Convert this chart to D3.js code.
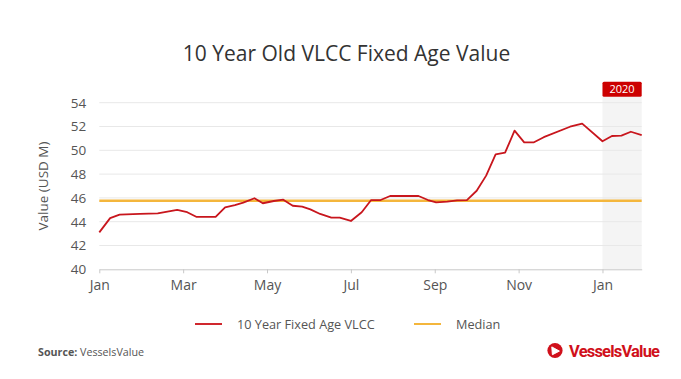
<!DOCTYPE html>
<html>
<head>
<meta charset="utf-8">
<script src="https://cdn.jsdelivr.net/npm/d3@7/dist/d3.min.js"></script>
<style>
  html, body { margin: 0; padding: 0; background: #fff; }
  svg { display: block; }
  text { font-family: "Open Sans", "Noto Sans", sans-serif; }
</style>
</head>
<body>
<svg id="chart" width="681" height="379"></svg>
<script>
// ---- data ----
const dates = ["2019-01-01","2019-01-09","2019-01-16","2019-01-31","2019-02-12","2019-02-25","2019-03-04","2019-03-11","2019-03-25","2019-04-01","2019-04-08","2019-04-14","2019-04-22","2019-04-28","2019-05-06","2019-05-13","2019-05-20","2019-05-27","2019-06-02","2019-06-09","2019-06-17","2019-06-23","2019-07-01","2019-07-09","2019-07-16","2019-07-23","2019-07-30","2019-08-20","2019-08-27","2019-09-02","2019-09-10","2019-09-17","2019-09-24","2019-10-01","2019-10-08","2019-10-15","2019-10-22","2019-10-29","2019-11-05","2019-11-12","2019-11-19","2019-12-08","2019-12-17","2020-01-01","2020-01-08","2020-01-15","2020-01-22","2020-01-30"];
const values = [43.1,44.3,44.6,44.65,44.7,45.0,44.8,44.4,44.4,45.2,45.4,45.6,45.97,45.55,45.74,45.85,45.34,45.26,45.04,44.65,44.34,44.34,44.06,44.8,45.82,45.82,46.16,46.16,45.82,45.63,45.68,45.8,45.82,46.6,47.87,49.66,49.8,51.65,50.67,50.67,51.1,51.98,52.24,50.76,51.2,51.23,51.56,51.28];
const medianValue = 45.76;
const xTickDates = ["2019-01-01","2019-03-01","2019-05-01","2019-07-01","2019-09-01","2019-11-01","2020-01-01"];
const xTickLabels = ["Jan","Mar","May","Jul","Sep","Nov","Jan"];
const yTicks = [40,42,44,46,48,50,52,54];
const highlightStart = "2020-01-01";
const highlightLabel = "2020";
const seriesName = "10 Year Fixed Age VLCC";
const medianName = "Median";
const titleText = "10 Year Old VLCC Fixed Age Value";
const yLabel = "Value (USD M)";

// month-index position (each month equal width)
function monthPos(s) {
  const [yr, m, d] = s.split("-").map(Number);
  const dim = new Date(yr, m, 0).getDate();
  return (yr - 2019) * 12 + (m - 1) + (d - 1) / dim;
}

const data = dates.map((d, i) => ({ x: monthPos(d), v: values[i] }));

const svg = d3.select("#chart");
const plotL = 99.3, plotR = 641.7, plotT = 102.7, plotB = 269.3;

const x = d3.scaleLinear()
  .domain([0, d3.max(data, d => d.x)])
  .range([plotL, plotR]);
const y = d3.scaleLinear().domain([40, 54]).range([plotB, plotT]);

// highlight band
const hx = x(monthPos(highlightStart));
svg.append("rect")
  .attr("x", hx).attr("y", 96.7)
  .attr("width", plotR - hx).attr("height", plotB - 96.7)
  .attr("fill", "#f4f4f4");

// gridlines
svg.append("g")
  .selectAll("line")
  .data(yTicks.filter(t => t > 40))
  .join("line")
  .attr("x1", plotL).attr("x2", plotR)
  .attr("y1", d => y(d)).attr("y2", d => y(d))
  .attr("stroke", "#e8e8e8").attr("stroke-width", 1);

// y axis labels
const yAxis = d3.axisLeft(y).tickValues(yTicks).tickSize(0).tickPadding(13);
const gy = svg.append("g").attr("transform", `translate(${plotL},0)`).call(yAxis);
gy.select(".domain").remove();
gy.selectAll("text").attr("fill", "#555").attr("font-size", 13.5)
  .style("font-family", '"Open Sans", sans-serif');

// x axis
const xAxis = d3.axisBottom(x)
  .tickValues(xTickDates.map(monthPos))
  .tickFormat((d, i) => xTickLabels[i])
  .tickSize(4).tickSizeOuter(0).tickPadding(7);
const gx = svg.append("g").attr("transform", `translate(0,${plotB})`).call(xAxis);
gx.select(".domain").attr("stroke", "#c8c8c8");
gx.selectAll(".tick line").attr("stroke", "#c8c8c8");
gx.selectAll("text").attr("fill", "#555").attr("font-size", 14)
  .style("font-family", '"Open Sans", sans-serif');

// median line
svg.append("line")
  .attr("x1", plotL).attr("x2", plotR)
  .attr("y1", y(medianValue)).attr("y2", y(medianValue))
  .attr("stroke", "#f4b63c").attr("stroke-width", 2.5);

// series line
svg.append("path")
  .datum(data)
  .attr("fill", "none")
  .attr("stroke", "#c8161d")
  .attr("stroke-width", 1.8)
  .attr("stroke-linejoin", "round")
  .attr("d", d3.line().x(d => x(d.x)).y(d => y(d.v)));

// 2020 tag
svg.append("rect")
  .attr("x", hx).attr("y", 81.7)
  .attr("width", plotR - hx).attr("height", 15)
  .attr("rx", 1.5)
  .attr("fill", "#cc0000");
svg.append("text")
  .attr("x", (hx + plotR) / 2).attr("y", 93.2)
  .attr("text-anchor", "middle")
  .attr("fill", "#fff").attr("font-size", 11)
  .text(highlightLabel);

// title
svg.append("text")
  .attr("x", 346.5).attr("y", 60.5)
  .attr("text-anchor", "middle")
  .attr("fill", "#333").attr("font-size", 21)
  .text(titleText);

// y label
svg.append("text")
  .attr("transform", `translate(48,${(plotT + plotB) / 2}) rotate(-90)`)
  .attr("text-anchor", "middle")
  .attr("fill", "#555").attr("font-size", 13.5)
  .text(yLabel);

// legend
const legend = [
  { name: seriesName, color: "#d0282e", x: 195 },
  { name: medianName, color: "#f4b63c", x: 414 }
];
const lg = svg.append("g").selectAll("g").data(legend).join("g")
  .attr("transform", d => `translate(${d.x},324)`);
lg.append("line").attr("x1", 0).attr("x2", 27).attr("y1", 0).attr("y2", 0)
  .attr("stroke", d => d.color).attr("stroke-width", 2);
lg.append("text").attr("x", 42).attr("y", 4.5)
  .attr("fill", "#555").attr("font-size", 12.7)
  .text(d => d.name);

// source
const src = svg.append("text").attr("x", 38).attr("y", 356)
  .attr("fill", "#555").attr("font-size", 10.7);
src.append("tspan").attr("font-weight", "bold").text("Source:");
src.append("tspan").text(" VesselsValue");

// logo
const logo = svg.append("g").attr("transform", "translate(555,350.5)");
logo.append("circle").attr("r", 7.6).attr("fill", "#d0101b");
logo.append("path")
  .attr("d", "M-3.2,-3.6 L4.4,0.6 L-2.6,4.2 Z")
  .attr("fill", "#fff")
  .attr("stroke", "#fff").attr("stroke-width", 1).attr("stroke-linejoin", "round");
svg.append("text").attr("x", 569).attr("y", 356.5)
  .attr("fill", "#d0101b").attr("font-size", 16.5)
  .attr("font-weight", "bold")
  .attr("letter-spacing", -0.8)
  .style("font-family", '"Liberation Sans Narrow", "Roboto", sans-serif')
  .text("VesselsValue");
</script>
</body>
</html>
